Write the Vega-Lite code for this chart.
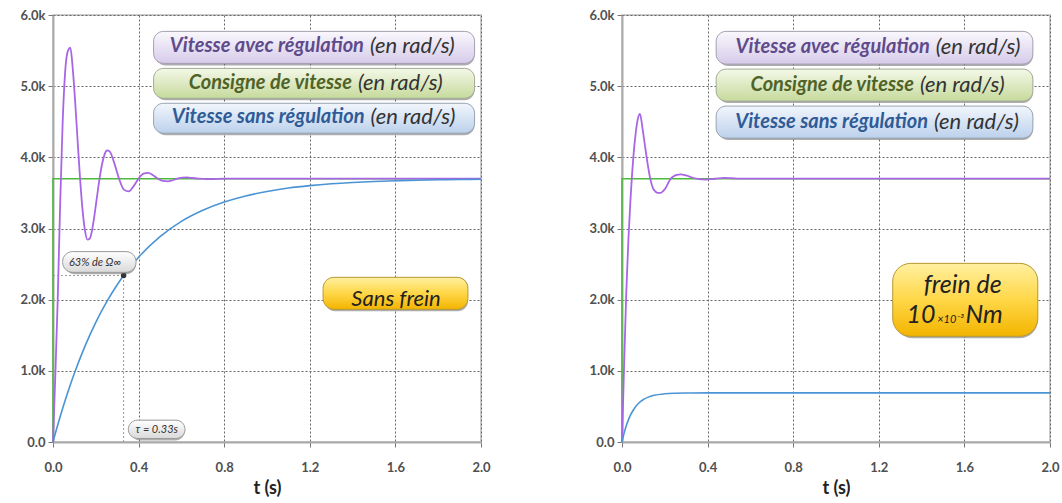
{
"$schema": "https://vega.github.io/schema/vega-lite/v6.json",
"background": "white",
"padding": {"left": 19, "top": 8, "right": 0, "bottom": 0},
"bounds": "flush",
"spacing": 141,
"config": {
  "view": {"stroke": "#bbbbbb", "strokeWidth": 1.5},
  "axis": {"labelFont": "Lato", "labelFontSize": 13, "labelFontWeight": "bold", "labelColor": "#505050", "titleFont": "Lato", "titleFontSize": 18, "titleFontWeight": "bold", "titleColor": "#222222", "gridColor": "#666666", "gridDash": [2, 2], "gridWidth": 1, "domainColor": "#aaaaaa", "domainWidth": 2, "tickColor": "#777777", "tickSize": 5, "labelFlush": false, "labelOverlap": false},
  "text": {"font": "Lato"}
},
"datasets": {
  "curves": [
    {"p":"L","s":"C","t":0,"v":0},{"p":"L","s":"C","t":0,"v":3700},{"p":"L","s":"C","t":2,"v":3700},
    {"p":"R","s":"C","t":0,"v":0},{"p":"R","s":"C","t":0,"v":3700},{"p":"R","s":"C","t":2,"v":3700},
    {"p":"L","s":"A","t":0,"v":0},{"p":"L","s":"A","t":0.011,"v":950},{"p":"L","s":"A","t":0.022,"v":2000},{"p":"L","s":"A","t":0.034,"v":3400},{"p":"L","s":"A","t":0.045,"v":4480},{"p":"L","s":"A","t":0.058,"v":5250},{"p":"L","s":"A","t":0.07,"v":5500},{"p":"L","s":"A","t":0.081,"v":5540},{"p":"L","s":"A","t":0.0924,"v":5243},{"p":"L","s":"A","t":0.1038,"v":4771},{"p":"L","s":"A","t":0.1151,"v":4227},{"p":"L","s":"A","t":0.1265,"v":3700},{"p":"L","s":"A","t":0.1379,"v":3266},{"p":"L","s":"A","t":0.1493,"v":2974},{"p":"L","s":"A","t":0.1606,"v":2845},{"p":"L","s":"A","t":0.172,"v":2860},{"p":"L","s":"A","t":0.1834,"v":2991},{"p":"L","s":"A","t":0.1948,"v":3208},{"p":"L","s":"A","t":0.2061,"v":3458},{"p":"L","s":"A","t":0.2175,"v":3700},{"p":"L","s":"A","t":0.2289,"v":3899},{"p":"L","s":"A","t":0.2403,"v":4034},{"p":"L","s":"A","t":0.2516,"v":4096},{"p":"L","s":"A","t":0.263,"v":4089},{"p":"L","s":"A","t":0.2744,"v":4026},{"p":"L","s":"A","t":0.2858,"v":3926},{"p":"L","s":"A","t":0.3085,"v":3700},{"p":"L","s":"A","t":0.3313,"v":3546},{"p":"L","s":"A","t":0.354,"v":3521},{"p":"L","s":"A","t":0.3768,"v":3596},{"p":"L","s":"A","t":0.3995,"v":3700},{"p":"L","s":"A","t":0.4223,"v":3770},{"p":"L","s":"A","t":0.445,"v":3782},{"p":"L","s":"A","t":0.4678,"v":3748},{"p":"L","s":"A","t":0.4905,"v":3700},{"p":"L","s":"A","t":0.5133,"v":3668},{"p":"L","s":"A","t":0.536,"v":3662},{"p":"L","s":"A","t":0.5588,"v":3678},{"p":"L","s":"A","t":0.5815,"v":3700},{"p":"L","s":"A","t":0.6043,"v":3715},{"p":"L","s":"A","t":0.627,"v":3717},{"p":"L","s":"A","t":0.65,"v":3710},{"p":"L","s":"A","t":0.68,"v":3700},{"p":"L","s":"A","t":0.72,"v":3694},{"p":"L","s":"A","t":0.76,"v":3697},{"p":"L","s":"A","t":0.8,"v":3700},{"p":"L","s":"A","t":2,"v":3700},
    {"p":"L","s":"S","t":0,"v":0},{"p":"L","s":"S","t":0.025,"v":270},{"p":"L","s":"S","t":0.05,"v":520},{"p":"L","s":"S","t":0.075,"v":752},{"p":"L","s":"S","t":0.1,"v":966},{"p":"L","s":"S","t":0.15,"v":1351},{"p":"L","s":"S","t":0.2,"v":1682},{"p":"L","s":"S","t":0.25,"v":1965},{"p":"L","s":"S","t":0.3,"v":2209},{"p":"L","s":"S","t":0.35,"v":2419},{"p":"L","s":"S","t":0.4,"v":2597},{"p":"L","s":"S","t":0.5,"v":2886},{"p":"L","s":"S","t":0.6,"v":3100},{"p":"L","s":"S","t":0.7,"v":3256},{"p":"L","s":"S","t":0.8,"v":3372},{"p":"L","s":"S","t":0.9,"v":3458},{"p":"L","s":"S","t":1.0,"v":3521},{"p":"L","s":"S","t":1.1,"v":3568},{"p":"L","s":"S","t":1.2,"v":3602},{"p":"L","s":"S","t":1.3,"v":3628},{"p":"L","s":"S","t":1.4,"v":3647},{"p":"L","s":"S","t":1.5,"v":3661},{"p":"L","s":"S","t":1.6,"v":3671},{"p":"L","s":"S","t":1.7,"v":3679},{"p":"L","s":"S","t":1.8,"v":3684},{"p":"L","s":"S","t":1.9,"v":3688},{"p":"L","s":"S","t":2.0,"v":3691},
    {"p":"R","s":"A","t":0,"v":0},{"p":"R","s":"A","t":0.01,"v":1100},{"p":"R","s":"A","t":0.02,"v":2100},{"p":"R","s":"A","t":0.03,"v":2850},{"p":"R","s":"A","t":0.039,"v":3370},{"p":"R","s":"A","t":0.053,"v":4000},{"p":"R","s":"A","t":0.064,"v":4340},{"p":"R","s":"A","t":0.074,"v":4540},{"p":"R","s":"A","t":0.084,"v":4610},{"p":"R","s":"A","t":0.096,"v":4403},{"p":"R","s":"A","t":0.108,"v":4150},{"p":"R","s":"A","t":0.12,"v":3904},{"p":"R","s":"A","t":0.132,"v":3700},{"p":"R","s":"A","t":0.144,"v":3570},{"p":"R","s":"A","t":0.156,"v":3520},{"p":"R","s":"A","t":0.168,"v":3500},{"p":"R","s":"A","t":0.18,"v":3500},{"p":"R","s":"A","t":0.192,"v":3525},{"p":"R","s":"A","t":0.204,"v":3570},{"p":"R","s":"A","t":0.216,"v":3640},{"p":"R","s":"A","t":0.228,"v":3700},{"p":"R","s":"A","t":0.24,"v":3730},{"p":"R","s":"A","t":0.252,"v":3750},{"p":"R","s":"A","t":0.264,"v":3758},{"p":"R","s":"A","t":0.276,"v":3760},{"p":"R","s":"A","t":0.288,"v":3755},{"p":"R","s":"A","t":0.3,"v":3745},{"p":"R","s":"A","t":0.324,"v":3720},{"p":"R","s":"A","t":0.348,"v":3700},{"p":"R","s":"A","t":0.372,"v":3690},{"p":"R","s":"A","t":0.396,"v":3688},{"p":"R","s":"A","t":0.42,"v":3695},{"p":"R","s":"A","t":0.45,"v":3705},{"p":"R","s":"A","t":0.48,"v":3710},{"p":"R","s":"A","t":0.51,"v":3706},{"p":"R","s":"A","t":0.55,"v":3700},{"p":"R","s":"A","t":2,"v":3700},
    {"p":"R","s":"S","t":0,"v":0},{"p":"R","s":"S","t":0.01,"v":125},{"p":"R","s":"S","t":0.02,"v":228},{"p":"R","s":"S","t":0.03,"v":311},{"p":"R","s":"S","t":0.04,"v":380},{"p":"R","s":"S","t":0.05,"v":436},{"p":"R","s":"S","t":0.06,"v":482},{"p":"R","s":"S","t":0.08,"v":551},{"p":"R","s":"S","t":0.1,"v":597},{"p":"R","s":"S","t":0.12,"v":627},{"p":"R","s":"S","t":0.15,"v":656},{"p":"R","s":"S","t":0.2,"v":677},{"p":"R","s":"S","t":0.25,"v":685},{"p":"R","s":"S","t":0.3,"v":688},{"p":"R","s":"S","t":0.4,"v":690},{"p":"R","s":"S","t":2,"v":690}
  ],
  "guides": [
    {"p":"L","t":0.33,"t2":0.33,"v":0,"v2":2339},
    {"p":"L","t":0,"t2":0.33,"v":2339,"v2":2339}
  ],
  "marks": [
    {"p":"L","t":0.33,"v":2339}
  ],
  "boxes": [
    {"p":"L","k":"A","t":0.47,"t2":1.97,"v":5320,"v2":5770},
    {"p":"L","k":"C","t":0.47,"t2":1.97,"v":4830,"v2":5250},
    {"p":"L","k":"S","t":0.47,"t2":1.97,"v":4340,"v2":4760},
    {"p":"L","k":"Y","t":1.262,"t2":1.939,"v":1864,"v2":2314},
    {"p":"L","k":"G","t":0.045,"t2":0.388,"v":2384,"v2":2675},
    {"p":"L","k":"G","t":0.352,"t2":0.617,"v":49,"v2":307},
    {"p":"R","k":"A","t":0.44,"t2":1.92,"v":5310,"v2":5770},
    {"p":"R","k":"C","t":0.44,"t2":1.92,"v":4790,"v2":5240},
    {"p":"R","k":"S","t":0.44,"t2":1.92,"v":4270,"v2":4720},
    {"p":"R","k":"Y","t":1.265,"t2":1.943,"v":1485,"v2":2510}
  ],
  "legend": [
    {"p":"L","k":"A","t":1.467,"v":5560,"a":"Vitesse avec régulation","b":"(en rad/s)"},
    {"p":"L","k":"C","t":1.411,"v":5040,"a":"Consigne de vitesse","b":"(en rad/s)"},
    {"p":"L","k":"S","t":1.47,"v":4560,"a":"Vitesse sans régulation","b":"(en rad/s)"},
    {"p":"R","k":"A","t":1.452,"v":5550,"a":"Vitesse avec régulation","b":"(en rad/s)"},
    {"p":"R","k":"C","t":1.378,"v":5020,"a":"Consigne de vitesse","b":"(en rad/s)"},
    {"p":"R","k":"S","t":1.444,"v":4490,"a":"Vitesse sans régulation","b":"(en rad/s)"}
  ],
  "notes": [
    {"p":"L","k":"big","t":1.603,"v":1915,"txt":"Sans frein"},
    {"p":"L","k":"small","t":0.196,"v":2480,"txt":"63% de Ω∞"},
    {"p":"L","k":"small","t":0.485,"v":120,"txt":"τ = 0.33s"},
    {"p":"R","k":"big","t":1.592,"v":2090,"txt":"frein de"},
    {"p":"R","k":"left","t":1.535,"v":1670,"txt":"10"},
    {"p":"R","k":"mid","t":1.535,"v":1670,"txt":"×10⁻³"},
    {"p":"R","k":"right","t":1.535,"v":1670,"txt":"Nm"}
  ]
},
"hconcat": [
  {
    "width": 428, "height": 427,
    "layer": [
      {"data": {"name": "guides"}, "transform": [{"filter": "datum.p == 'L'"}],
       "mark": {"type": "rule", "strokeDash": [2, 2], "color": "#9a9a9a", "strokeWidth": 1},
       "encoding": {
         "x": {"field": "t", "type": "quantitative", "scale": {"domain": [0, 2], "nice": false}, "axis": {"values": [0, 0.4, 0.8, 1.2, 1.6, 2.0], "format": ".1f", "title": "t (s)", "labelPadding": 14, "titlePadding": 5}},
         "x2": {"field": "t2"},
         "y": {"field": "v", "type": "quantitative", "scale": {"domain": [0, 6000], "nice": false}, "axis": {"values": [0, 1000, 2000, 3000, 4000, 5000, 6000], "labelExpr": "datum.value == 0 ? '0.0' : format(datum.value / 1000, '.1f') + 'k'", "title": null, "labelPadding": 3}},
         "y2": {"field": "v2"}}},
      {"data": {"name": "curves"}, "transform": [{"filter": "datum.p == 'L' && datum.s == 'C'"}],
       "mark": {"type": "line", "color": "#4cbb3c", "strokeWidth": 1.5},
       "encoding": {"x": {"field": "t", "type": "quantitative"}, "y": {"field": "v", "type": "quantitative"}}},
      {"data": {"name": "curves"}, "transform": [{"filter": "datum.p == 'L' && datum.s == 'A'"}],
       "mark": {"type": "line", "color": "#a866e6", "strokeWidth": 1.8, "interpolate": "monotone"},
       "encoding": {"x": {"field": "t", "type": "quantitative"}, "y": {"field": "v", "type": "quantitative"}}},
      {"data": {"name": "curves"}, "transform": [{"filter": "datum.p == 'L' && datum.s == 'S'"}],
       "mark": {"type": "line", "color": "#4a94d6", "strokeWidth": 1.6, "interpolate": "monotone"},
       "encoding": {"x": {"field": "t", "type": "quantitative"}, "y": {"field": "v", "type": "quantitative"}}},
      {"data": {"name": "marks"}, "transform": [{"filter": "datum.p == 'L'"}],
       "mark": {"type": "circle", "color": "#333333", "size": 30, "opacity": 1},
       "encoding": {"x": {"field": "t", "type": "quantitative"}, "y": {"field": "v", "type": "quantitative"}}},
      {"data": {"name": "boxes"}, "transform": [{"filter": "datum.p == 'L'"}],
       "mark": {"type": "rect", "cornerRadius": 10, "fill": "#6a6a6a", "opacity": 0.55, "xOffset": 2, "yOffset": 2},
       "encoding": {"x": {"field": "t", "type": "quantitative"}, "x2": {"field": "t2"}, "y": {"field": "v", "type": "quantitative"}, "y2": {"field": "v2"}}},
      {"data": {"name": "boxes"}, "transform": [{"filter": "datum.p == 'L' && datum.k == 'A'"}],
       "mark": {"type": "rect", "cornerRadius": 10, "stroke": "#a5a0b0", "strokeWidth": 1, "fill": {"gradient": "linear", "x1": 0, "y1": 0, "x2": 0, "y2": 1, "stops": [{"offset": 0, "color": "#faf8fd"}, {"offset": 1, "color": "#d6cbea"}]}},
       "encoding": {"x": {"field": "t", "type": "quantitative"}, "x2": {"field": "t2"}, "y": {"field": "v", "type": "quantitative"}, "y2": {"field": "v2"}}},
      {"data": {"name": "boxes"}, "transform": [{"filter": "datum.p == 'L' && datum.k == 'C'"}],
       "mark": {"type": "rect", "cornerRadius": 10, "stroke": "#a3ab95", "strokeWidth": 1, "fill": {"gradient": "linear", "x1": 0, "y1": 0, "x2": 0, "y2": 1, "stops": [{"offset": 0, "color": "#f4f8e8"}, {"offset": 1, "color": "#c6da9c"}]}},
       "encoding": {"x": {"field": "t", "type": "quantitative"}, "x2": {"field": "t2"}, "y": {"field": "v", "type": "quantitative"}, "y2": {"field": "v2"}}},
      {"data": {"name": "boxes"}, "transform": [{"filter": "datum.p == 'L' && datum.k == 'S'"}],
       "mark": {"type": "rect", "cornerRadius": 10, "stroke": "#98a3b3", "strokeWidth": 1, "fill": {"gradient": "linear", "x1": 0, "y1": 0, "x2": 0, "y2": 1, "stops": [{"offset": 0, "color": "#f2f6fc"}, {"offset": 1, "color": "#bcd1ec"}]}},
       "encoding": {"x": {"field": "t", "type": "quantitative"}, "x2": {"field": "t2"}, "y": {"field": "v", "type": "quantitative"}, "y2": {"field": "v2"}}},
      {"data": {"name": "boxes"}, "transform": [{"filter": "datum.p == 'L' && datum.k == 'Y'"}],
       "mark": {"type": "rect", "cornerRadius": 11, "stroke": "#b89a30", "strokeWidth": 1, "fill": {"gradient": "linear", "x1": 0, "y1": 0, "x2": 0, "y2": 1, "stops": [{"offset": 0, "color": "#fff0a0"}, {"offset": 0.5, "color": "#ffd747"}, {"offset": 1, "color": "#f3b400"}]}},
       "encoding": {"x": {"field": "t", "type": "quantitative"}, "x2": {"field": "t2"}, "y": {"field": "v", "type": "quantitative"}, "y2": {"field": "v2"}}},
      {"data": {"name": "boxes"}, "transform": [{"filter": "datum.p == 'L' && datum.k == 'G'"}],
       "mark": {"type": "rect", "cornerRadius": 10, "stroke": "#9a9a9a", "strokeWidth": 1, "fill": {"gradient": "linear", "x1": 0, "y1": 0, "x2": 0, "y2": 1, "stops": [{"offset": 0, "color": "#ffffff"}, {"offset": 1, "color": "#d9d9d9"}]}},
       "encoding": {"x": {"field": "t", "type": "quantitative"}, "x2": {"field": "t2"}, "y": {"field": "v", "type": "quantitative"}, "y2": {"field": "v2"}}},
      {"data": {"name": "legend"}, "transform": [{"filter": "datum.p == 'L'"}],
       "mark": {"type": "text", "align": "right", "baseline": "middle", "dx": -3, "fontSize": 20, "fontWeight": "bold", "fontStyle": "italic"},
       "encoding": {"x": {"field": "t", "type": "quantitative"}, "y": {"field": "v", "type": "quantitative"}, "text": {"field": "a"},
         "color": {"field": "k", "type": "nominal", "scale": {"domain": ["A", "C", "S"], "range": ["#5f4b8b", "#4f6228", "#2f5b96"]}, "legend": null}}},
      {"data": {"name": "legend"}, "transform": [{"filter": "datum.p == 'L'"}],
       "mark": {"type": "text", "align": "left", "baseline": "middle", "dx": 3, "fontSize": 22, "fontStyle": "italic", "color": "#333333"},
       "encoding": {"x": {"field": "t", "type": "quantitative"}, "y": {"field": "v", "type": "quantitative"}, "text": {"field": "b"}}},
      {"data": {"name": "notes"}, "transform": [{"filter": "datum.p == 'L' && datum.k == 'big'"}],
       "mark": {"type": "text", "align": "center", "baseline": "alphabetic", "fontSize": 22, "fontStyle": "italic", "color": "#222222"},
       "encoding": {"x": {"field": "t", "type": "quantitative"}, "y": {"field": "v", "type": "quantitative"}, "text": {"field": "txt"}}},
      {"data": {"name": "notes"}, "transform": [{"filter": "datum.p == 'L' && datum.k == 'small'"}],
       "mark": {"type": "text", "align": "center", "baseline": "alphabetic", "fontSize": 11, "fontStyle": "italic", "color": "#333333"},
       "encoding": {"x": {"field": "t", "type": "quantitative"}, "y": {"field": "v", "type": "quantitative"}, "text": {"field": "txt"}}}
    ]
  },
  {
    "width": 428, "height": 427,
    "layer": [
      {"data": {"name": "curves"}, "transform": [{"filter": "datum.p == 'R' && datum.s == 'C'"}],
       "mark": {"type": "line", "color": "#4cbb3c", "strokeWidth": 1.5},
       "encoding": {
         "x": {"field": "t", "type": "quantitative", "scale": {"domain": [0, 2], "nice": false}, "axis": {"values": [0, 0.4, 0.8, 1.2, 1.6, 2.0], "format": ".1f", "title": "t (s)", "labelPadding": 14, "titlePadding": 5}},
         "y": {"field": "v", "type": "quantitative", "scale": {"domain": [0, 6000], "nice": false}, "axis": {"values": [0, 1000, 2000, 3000, 4000, 5000, 6000], "labelExpr": "datum.value == 0 ? '0.0' : format(datum.value / 1000, '.1f') + 'k'", "title": null, "labelPadding": 3}}}},
      {"data": {"name": "curves"}, "transform": [{"filter": "datum.p == 'R' && datum.s == 'A'"}],
       "mark": {"type": "line", "color": "#a866e6", "strokeWidth": 1.8, "interpolate": "monotone"},
       "encoding": {"x": {"field": "t", "type": "quantitative"}, "y": {"field": "v", "type": "quantitative"}}},
      {"data": {"name": "curves"}, "transform": [{"filter": "datum.p == 'R' && datum.s == 'S'"}],
       "mark": {"type": "line", "color": "#4a94d6", "strokeWidth": 1.6, "interpolate": "monotone"},
       "encoding": {"x": {"field": "t", "type": "quantitative"}, "y": {"field": "v", "type": "quantitative"}}},
      {"data": {"name": "boxes"}, "transform": [{"filter": "datum.p == 'R' && datum.k != 'Y'"}],
       "mark": {"type": "rect", "cornerRadius": 10, "fill": "#6a6a6a", "opacity": 0.55, "xOffset": 2, "yOffset": 2},
       "encoding": {"x": {"field": "t", "type": "quantitative"}, "x2": {"field": "t2"}, "y": {"field": "v", "type": "quantitative"}, "y2": {"field": "v2"}}},
      {"data": {"name": "boxes"}, "transform": [{"filter": "datum.p == 'R' && datum.k == 'Y'"}],
       "mark": {"type": "rect", "cornerRadius": 18, "fill": "#6a6a6a", "opacity": 0.55, "xOffset": 2, "yOffset": 2},
       "encoding": {"x": {"field": "t", "type": "quantitative"}, "x2": {"field": "t2"}, "y": {"field": "v", "type": "quantitative"}, "y2": {"field": "v2"}}},
      {"data": {"name": "boxes"}, "transform": [{"filter": "datum.p == 'R' && datum.k == 'A'"}],
       "mark": {"type": "rect", "cornerRadius": 10, "stroke": "#a5a0b0", "strokeWidth": 1, "fill": {"gradient": "linear", "x1": 0, "y1": 0, "x2": 0, "y2": 1, "stops": [{"offset": 0, "color": "#faf8fd"}, {"offset": 1, "color": "#d6cbea"}]}},
       "encoding": {"x": {"field": "t", "type": "quantitative"}, "x2": {"field": "t2"}, "y": {"field": "v", "type": "quantitative"}, "y2": {"field": "v2"}}},
      {"data": {"name": "boxes"}, "transform": [{"filter": "datum.p == 'R' && datum.k == 'C'"}],
       "mark": {"type": "rect", "cornerRadius": 10, "stroke": "#a3ab95", "strokeWidth": 1, "fill": {"gradient": "linear", "x1": 0, "y1": 0, "x2": 0, "y2": 1, "stops": [{"offset": 0, "color": "#f4f8e8"}, {"offset": 1, "color": "#c6da9c"}]}},
       "encoding": {"x": {"field": "t", "type": "quantitative"}, "x2": {"field": "t2"}, "y": {"field": "v", "type": "quantitative"}, "y2": {"field": "v2"}}},
      {"data": {"name": "boxes"}, "transform": [{"filter": "datum.p == 'R' && datum.k == 'S'"}],
       "mark": {"type": "rect", "cornerRadius": 10, "stroke": "#98a3b3", "strokeWidth": 1, "fill": {"gradient": "linear", "x1": 0, "y1": 0, "x2": 0, "y2": 1, "stops": [{"offset": 0, "color": "#f2f6fc"}, {"offset": 1, "color": "#bcd1ec"}]}},
       "encoding": {"x": {"field": "t", "type": "quantitative"}, "x2": {"field": "t2"}, "y": {"field": "v", "type": "quantitative"}, "y2": {"field": "v2"}}},
      {"data": {"name": "boxes"}, "transform": [{"filter": "datum.p == 'R' && datum.k == 'Y'"}],
       "mark": {"type": "rect", "cornerRadius": 18, "stroke": "#b89a30", "strokeWidth": 1, "fill": {"gradient": "linear", "x1": 0, "y1": 0, "x2": 0, "y2": 1, "stops": [{"offset": 0, "color": "#fff0a0"}, {"offset": 0.5, "color": "#ffd747"}, {"offset": 1, "color": "#f3b400"}]}},
       "encoding": {"x": {"field": "t", "type": "quantitative"}, "x2": {"field": "t2"}, "y": {"field": "v", "type": "quantitative"}, "y2": {"field": "v2"}}},
      {"data": {"name": "legend"}, "transform": [{"filter": "datum.p == 'R'"}],
       "mark": {"type": "text", "align": "right", "baseline": "middle", "dx": -3, "fontSize": 20, "fontWeight": "bold", "fontStyle": "italic"},
       "encoding": {"x": {"field": "t", "type": "quantitative"}, "y": {"field": "v", "type": "quantitative"}, "text": {"field": "a"},
         "color": {"field": "k", "type": "nominal", "scale": {"domain": ["A", "C", "S"], "range": ["#5f4b8b", "#4f6228", "#2f5b96"]}, "legend": null}}},
      {"data": {"name": "legend"}, "transform": [{"filter": "datum.p == 'R'"}],
       "mark": {"type": "text", "align": "left", "baseline": "middle", "dx": 3, "fontSize": 22, "fontStyle": "italic", "color": "#333333"},
       "encoding": {"x": {"field": "t", "type": "quantitative"}, "y": {"field": "v", "type": "quantitative"}, "text": {"field": "b"}}},
      {"data": {"name": "notes"}, "transform": [{"filter": "datum.p == 'R' && datum.k == 'big'"}],
       "mark": {"type": "text", "align": "center", "baseline": "alphabetic", "fontSize": 25, "fontStyle": "italic", "color": "#222222"},
       "encoding": {"x": {"field": "t", "type": "quantitative"}, "y": {"field": "v", "type": "quantitative"}, "text": {"field": "txt"}}},
      {"data": {"name": "notes"}, "transform": [{"filter": "datum.p == 'R' && datum.k == 'left'"}],
       "mark": {"type": "text", "align": "right", "baseline": "alphabetic", "dx": -15, "fontSize": 25, "fontStyle": "italic", "color": "#222222"},
       "encoding": {"x": {"field": "t", "type": "quantitative"}, "y": {"field": "v", "type": "quantitative"}, "text": {"field": "txt"}}},
      {"data": {"name": "notes"}, "transform": [{"filter": "datum.p == 'R' && datum.k == 'mid'"}],
       "mark": {"type": "text", "align": "center", "baseline": "alphabetic", "fontSize": 11, "fontStyle": "italic", "color": "#222222"},
       "encoding": {"x": {"field": "t", "type": "quantitative"}, "y": {"field": "v", "type": "quantitative"}, "text": {"field": "txt"}}},
      {"data": {"name": "notes"}, "transform": [{"filter": "datum.p == 'R' && datum.k == 'right'"}],
       "mark": {"type": "text", "align": "left", "baseline": "alphabetic", "dx": 15, "fontSize": 25, "fontStyle": "italic", "color": "#222222"},
       "encoding": {"x": {"field": "t", "type": "quantitative"}, "y": {"field": "v", "type": "quantitative"}, "text": {"field": "txt"}}}
    ]
  }
]
}
